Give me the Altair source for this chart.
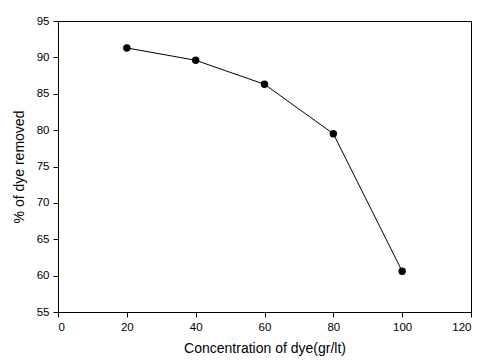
import altair as alt
import pandas as pd

concentration = [20, 40, 60, 80, 100]
removed = [91.3, 89.6, 86.3, 79.5, 60.6]

df = pd.DataFrame({"c": concentration, "r": removed})

x = alt.X("c:Q", scale=alt.Scale(domain=[0, 120], nice=False),
          axis=alt.Axis(title="Concentration of dye(gr/lt)", values=[0, 20, 40, 60, 80, 100, 120],
                        titlePadding=9))
y = alt.Y("r:Q", scale=alt.Scale(domain=[55, 95], nice=False, zero=False),
          axis=alt.Axis(title="% of dye removed", values=[55, 60, 65, 70, 75, 80, 85, 90, 95],
                        titlePadding=10))

line = alt.Chart(df).mark_line(color="black", strokeWidth=1).encode(x=x, y=y)
pts = alt.Chart(df).mark_circle(color="black", opacity=1, size=55).encode(x=x, y=y)

chart = (line + pts).properties(
    width=413, height=291,
    padding={"left": 50, "top": 13, "right": 3, "bottom": 45},
    autosize="none",
).configure_view(stroke="black", strokeWidth=1).configure_axis(
    grid=False, domainColor="black", tickColor="black", tickSize=5,
    labelFont="Liberation Sans", titleFont="Liberation Sans",
    labelFontSize=11.5, titleFontSize=14, titleFontWeight="normal",
    labelColor="black", titleColor="black", labelPadding=4,
)

chart.save("out.html", embed_options={"renderer": "svg", "actions": False})
